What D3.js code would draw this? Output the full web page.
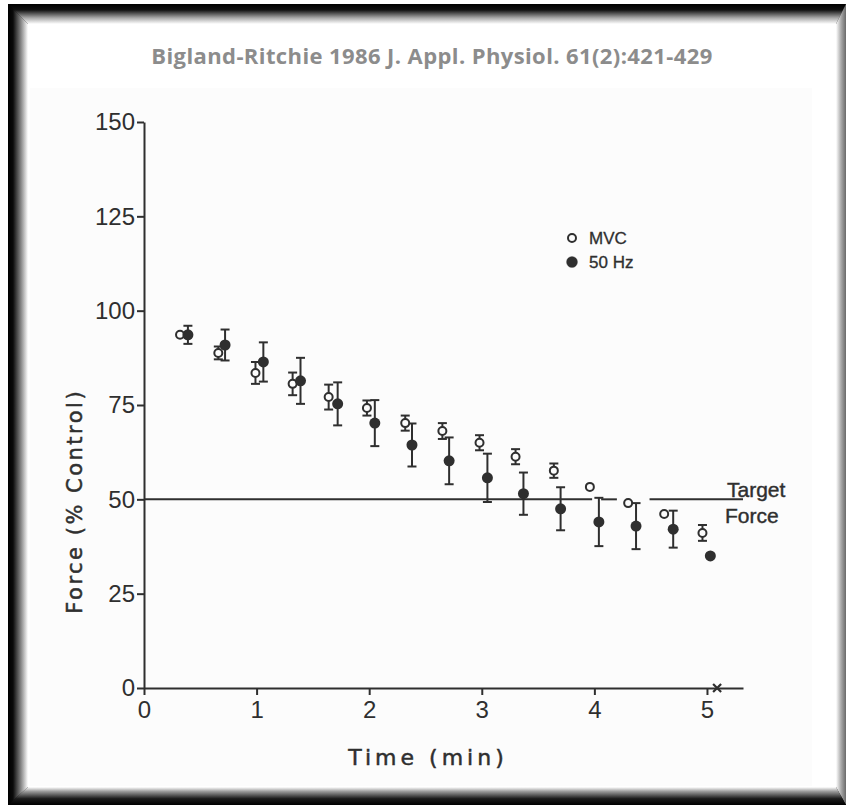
<!DOCTYPE html>
<html>
<head>
<meta charset="utf-8">
<script src="https://cdn.jsdelivr.net/npm/d3@7"></script>
<style>
  body { margin: 0; background: #fff; }
  svg { display: block; }
</style>
</head>
<body>
<script>
// values
const mvcTime  = [0.32, 0.66, 0.99, 1.32, 1.64, 1.98, 2.32, 2.65, 2.98, 3.30, 3.64, 3.96, 4.30, 4.62, 4.96];
const mvcForce = [93.6, 88.8, 83.5, 80.6, 77.1, 74.2, 70.2, 68.1, 65.0, 61.3, 57.6, 53.3, 49.0, 46.1, 41.1];
const mvcErr   = [0, 1.7, 2.9, 3.0, 3.3, 2.0, 2.0, 2.1, 2.0, 2.0, 1.9, 0, 0, 0, 2.1];

const hzTime  = [0.39, 0.72, 1.06, 1.39, 1.72, 2.05, 2.38, 2.71, 3.05, 3.37, 3.70, 4.04, 4.37, 4.70, 5.03];
const hzForce = [93.6, 90.9, 86.4, 81.4, 75.3, 70.2, 64.4, 60.2, 55.7, 51.5, 47.5, 44.0, 42.9, 42.1, 35.0];
const hzErr   = [2.4, 4.1, 5.2, 6.1, 5.7, 6.1, 5.7, 6.2, 6.4, 5.6, 5.7, 6.4, 6.1, 4.9, 0];

const yTicks = [0, 25, 50, 75, 100, 125, 150];
const xTicks = [0, 1, 2, 3, 4, 5];
const targetForce = 50;
const targetSegments = [[0, 3.98], [4.06, 4.20], [4.49, 5.32]];
const endTime = 5.09; // the "x" on the time axis

const title = "Bigland-Ritchie 1986 J. Appl. Physiol. 61(2):421-429";

const width = 846, height = 805;
const ink = "#2f2f2f";

const svg = d3.select("body").append("svg")
    .attr("width", width)
    .attr("height", height);

// ---- bevelled black frame ----
const defs = svg.append("defs");
function grad(id, x1, y1, x2, y2, stops) {
  const g = defs.append("linearGradient").attr("id", id)
      .attr("x1", x1).attr("y1", y1).attr("x2", x2).attr("y2", y2);
  stops.forEach(s => g.append("stop").attr("offset", s[0]).attr("stop-color", s[1]));
}
grad("gl", 0, 0, 1, 0, [[0, "#000"], [0.25, "#0a0a0a"], [0.6, "#777"], [1, "#fff"]]);
grad("gt", 0, 0, 0, 1, [[0, "#000"], [0.3, "#111"], [0.7, "#aaa"], [1, "#fff"]]);
grad("gr", 1, 0, 0, 0, [[0, "#6a6a6a"], [0.5, "#aaa"], [1, "#fff"]]);
grad("gb", 0, 1, 0, 0, [[0, "#000"], [0.35, "#1a1a1a"], [0.75, "#999"], [1, "#fff"]]);

svg.append("rect").attr("width", width).attr("height", height).attr("fill", "#fff");
svg.append("rect").attr("x", 8).attr("y", 4).attr("width", 838).attr("height", 801).attr("fill", "#000");
svg.append("rect").attr("x", 28).attr("y", 24).attr("width", 808).attr("height", 763).attr("fill", "#fff");
svg.append("polygon").attr("points", "8,4 28,24 28,787 8,805").attr("fill", "url(#gl)");
svg.append("polygon").attr("points", "8,4 846,4 836,24 28,24").attr("fill", "url(#gt)");
svg.append("polygon").attr("points", "846,4 846,805 836,787 836,24").attr("fill", "url(#gr)");
svg.append("polygon").attr("points", "8,805 846,805 836,787 28,787").attr("fill", "url(#gb)");

// faint scanned-page area
svg.append("rect").attr("x", 30).attr("y", 88).attr("width", 782).attr("height", 698).attr("fill", "#fcfcfc");

svg.append("text")
    .attr("x", 432).attr("y", 64)
    .attr("text-anchor", "middle")
    .attr("font-family", "'Open Sans', sans-serif")
    .attr("font-weight", 700)
    .attr("font-size", 22)
    .attr("letter-spacing", 0.4)
    .attr("fill", "#8c8c8c")
    .text(title);

// ---- scales ----
const x = d3.scaleLinear().domain([0, 5.32]).range([144, 743]);
const y = d3.scaleLinear().domain([0, 150]).range([688, 122]);

const axisFont = "'Liberation Sans', Arial, sans-serif";

svg.append("g")
    .attr("transform", `translate(0,${y(0)})`)
    .call(d3.axisBottom(x).tickValues(xTicks).tickSize(7).tickSizeOuter(0).tickPadding(6).tickFormat(d3.format("d")))
    .call(g => g.select(".domain").attr("stroke", ink).attr("stroke-width", 2))
    .call(g => g.selectAll(".tick line").attr("stroke", ink).attr("stroke-width", 2))
    .call(g => g.selectAll("text").attr("fill", ink).attr("font-size", 24).attr("font-family", axisFont));

svg.append("g")
    .attr("transform", `translate(${x(0)},0)`)
    .call(d3.axisLeft(y).tickValues(yTicks).tickSize(7).tickSizeOuter(0).tickPadding(2))
    .call(g => g.select(".domain").attr("stroke", ink).attr("stroke-width", 2))
    .call(g => g.selectAll(".tick line").attr("stroke", ink).attr("stroke-width", 2))
    .call(g => g.selectAll("text").attr("fill", ink).attr("font-size", 24).attr("font-family", axisFont));

// axis titles
svg.append("text")
    .attr("transform", `translate(82,${y(50) + 2}) rotate(-90)`)
    .attr("text-anchor", "middle")
    .attr("font-family", "'DejaVu Sans', sans-serif")
    .attr("font-size", 21)
    .attr("letter-spacing", 2.5)
    .attr("fill", ink)
    .attr("stroke", ink).attr("stroke-width", 0.5)
    .text("Force (% Control)");

svg.append("text")
    .attr("x", 428).attr("y", 765)
    .attr("text-anchor", "middle")
    .attr("font-family", "'DejaVu Sans', sans-serif")
    .attr("font-size", 22)
    .attr("letter-spacing", 4)
    .attr("fill", ink)
    .attr("stroke", ink).attr("stroke-width", 0.5)
    .text("Time (min)");

// target force line
svg.append("g").selectAll("line")
    .data(targetSegments)
    .join("line")
    .attr("x1", d => x(d[0])).attr("x2", d => x(d[1]))
    .attr("y1", y(targetForce)).attr("y2", y(targetForce))
    .attr("stroke", ink).attr("stroke-width", 2);

svg.append("text")
    .attr("x", 727).attr("y", 497)
    .attr("font-family", axisFont).attr("font-size", 21).attr("fill", ink)
    .attr("stroke", ink).attr("stroke-width", 0.4)
    .text("Target");
svg.append("text")
    .attr("x", 725).attr("y", 523)
    .attr("font-family", axisFont).attr("font-size", 21).attr("fill", ink)
    .attr("stroke", ink).attr("stroke-width", 0.4)
    .text("Force");

// ---- data ----
const mvc = mvcTime.map((t, i) => ({t, f: mvcForce[i], e: mvcErr[i]}));
const hz = hzTime.map((t, i) => ({t, f: hzForce[i], e: hzErr[i]}));

function errorBars(data) {
  const g = svg.append("g").attr("stroke", ink).attr("stroke-width", 2);
  const withErr = data.filter(d => d.e > 0);
  g.selectAll(".v").data(withErr).join("line")
      .attr("x1", d => x(d.t)).attr("x2", d => x(d.t))
      .attr("y1", d => y(d.f + d.e)).attr("y2", d => y(d.f - d.e));
  g.selectAll(".top").data(withErr).join("line")
      .attr("x1", d => x(d.t) - 4.5).attr("x2", d => x(d.t) + 4.5)
      .attr("y1", d => y(d.f + d.e)).attr("y2", d => y(d.f + d.e));
  g.selectAll(".bot").data(withErr).join("line")
      .attr("x1", d => x(d.t) - 4.5).attr("x2", d => x(d.t) + 4.5)
      .attr("y1", d => y(d.f - d.e)).attr("y2", d => y(d.f - d.e));
}

errorBars(mvc);
errorBars(hz);

svg.append("g").selectAll("circle")
    .data(mvc)
    .join("circle")
    .attr("cx", d => x(d.t)).attr("cy", d => y(d.f)).attr("r", 4)
    .attr("fill", "#fcfcfc").attr("stroke", ink).attr("stroke-width", 2);

svg.append("g").selectAll("circle")
    .data(hz)
    .join("circle")
    .attr("cx", d => x(d.t)).attr("cy", d => y(d.f)).attr("r", 5.5)
    .attr("fill", ink);

// end-of-task mark on the time axis
svg.append("path")
    .attr("transform", `translate(${x(endTime)},${y(0)})`)
    .attr("d", "M-4,-4L4,4M-4,4L4,-4")
    .attr("stroke", ink).attr("stroke-width", 2.2);

// legend
const legend = svg.append("g").attr("font-family", axisFont).attr("font-size", 17)
    .attr("fill", ink).attr("stroke", ink).attr("stroke-width", 0.3);
legend.append("circle").attr("cx", 572).attr("cy", 238).attr("r", 4)
    .attr("fill", "#fcfcfc").attr("stroke-width", 2);
legend.append("text").attr("x", 589).attr("y", 244).text("MVC");
legend.append("circle").attr("cx", 572).attr("cy", 262).attr("r", 5.5).attr("fill", ink);
legend.append("text").attr("x", 589).attr("y", 268).text("50 Hz");
</script>
</body>
</html>
